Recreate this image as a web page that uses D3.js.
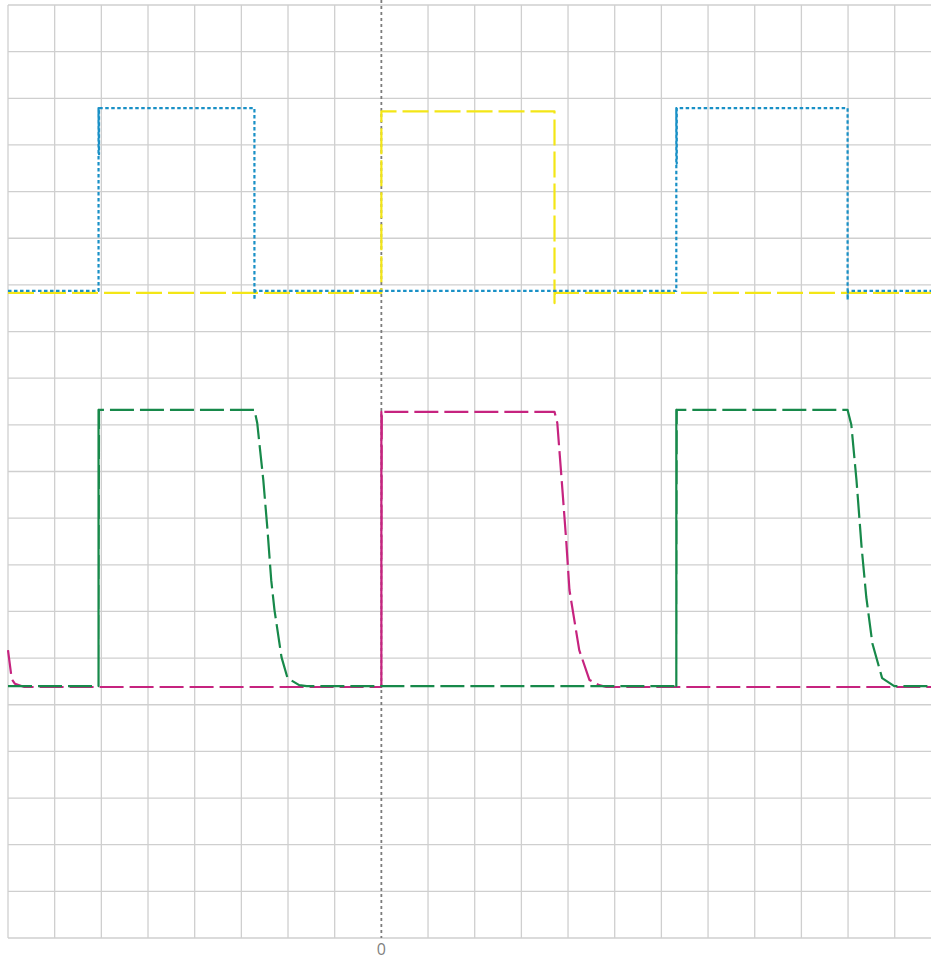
<!DOCTYPE html>
<html>
<head>
<meta charset="utf-8">
<script src="https://cdn.jsdelivr.net/npm/d3@7/dist/d3.min.js"></script>
<style>
  html, body { margin: 0; padding: 0; background: #ffffff; }
  svg { display: block; }
  .tick-label { font-family: "Open Sans", "Noto Sans", sans-serif; font-size: 16px; fill: #808080; }
</style>
</head>
<body>
<svg id="chart" width="931" height="960"></svg>
<script>
// Grid: one division per unit on both axes
const xTicks = d3.range(-8, 13, 1);
const yTicks = d3.range(0, 21, 1);
const xLabels = ["0"];

// Trace A (blue, dotted): square wave with small undershoot on falling edges
const traceA = [
  [-8, 13.87], [-6.06, 13.87], [-6.06, 17.79], [-6.05, 16.8], [-6.05, 17.79],
  [-2.72, 17.79], [-2.72, 13.68], [-2.71, 13.87],
  [6.32, 13.87], [6.32, 17.79], [6.33, 16.6], [6.33, 17.79],
  [9.99, 17.79], [9.99, 13.68], [10.0, 13.87], [12, 13.87]
];

// Trace B (yellow, long dash)
const traceB = [
  [-8, 13.83], [0, 13.83], [0, 17.72],
  [3.71, 17.72], [3.71, 13.61], [3.72, 13.83], [12, 13.83]
];

// Trace C (green, dashed): fast rise, slower exponential-like fall
const traceC = [
  [-8, 5.40], [-6.06, 5.40], [-6.06, 11.32], [-6.06, 5.40], [-6.05, 11.32],
  [-2.72, 11.32], [-2.66, 11.04], [-2.53, 9.82], [-2.44, 8.75], [-2.36, 7.67],
  [-2.29, 7.03], [-2.14, 6.02], [-2.01, 5.57], [-1.76, 5.42], [-1.6, 5.40],
  [6.32, 5.40], [6.32, 11.32], [6.32, 5.40], [6.33, 11.32],
  [9.99, 11.32], [10.07, 11.0], [10.18, 9.82], [10.29, 8.38], [10.39, 7.31],
  [10.52, 6.32], [10.73, 5.57], [10.99, 5.40], [12, 5.40]
];

// Trace D (magenta, dashed)
const traceD = [
  [-8, 6.17], [-7.92, 5.55], [-7.85, 5.45], [-7.65, 5.38],
  [0, 5.38], [0, 11.28], [0, 5.38], [0.01, 11.28],
  [3.71, 11.28], [3.77, 11.04], [3.88, 9.60], [3.96, 8.53], [4.03, 7.46],
  [4.24, 6.17], [4.46, 5.53], [4.67, 5.42], [4.82, 5.38], [12, 5.38]
];

const svg = d3.select("#chart");
const marginLeft = 8, marginTop = 5, cellH = 46.65, cellW = 46.67;
const x = d3.scaleLinear().domain([-8, 12]).range([marginLeft, marginLeft + 20 * cellW]);
const y = d3.scaleLinear().domain([0, 20]).range([marginTop + 20 * cellH, marginTop]);
const plotBottom = y(0);
const plotRight = x(12);

// Grid
const grid = svg.append("g").attr("class", "grid");
grid.selectAll("line.v").data(xTicks.filter(d => d !== 0)).join("line")
  .attr("class", "v")
  .attr("x1", d => x(d)).attr("x2", d => x(d))
  .attr("y1", y(20)).attr("y2", plotBottom)
  .attr("stroke", "#cfcfcf").attr("stroke-width", 1.3);
grid.selectAll("line.h").data(yTicks).join("line")
  .attr("class", "h")
  .attr("x1", x(-8)).attr("x2", plotRight)
  .attr("y1", d => y(d)).attr("y2", d => y(d))
  .attr("stroke", "#cfcfcf").attr("stroke-width", 1.3);

// Zero reference line
svg.append("line")
  .attr("x1", x(0)).attr("x2", x(0))
  .attr("y1", 0).attr("y2", plotBottom)
  .attr("stroke", "#7c7c7c").attr("stroke-width", 1.8)
  .attr("stroke-dasharray", "3,3");

// Axis label at zero
svg.append("g").selectAll("text").data(xLabels).join("text")
  .attr("class", "tick-label")
  .attr("x", d => x(+d)).attr("y", 955)
  .attr("text-anchor", "middle")
  .text(d => d);

const line = d3.line().x(d => x(d[0])).y(d => y(d[1])).curve(d3.curveLinear);

const plot = svg.append("g");
const series = [
  { data: traceD, color: "#c6237f", dash: "24,6", width: 2.2 },
  { data: traceC, color: "#17894a", dash: "24,6", width: 2.2 },
  { data: traceB, color: "#f3e616", dash: "26,6", width: 2.2 },
  { data: traceA, color: "#1990c6", dash: "3.5,2.5", width: 2.2 }
];
plot.selectAll("path").data(series).join("path")
  .attr("d", d => line(d.data))
  .attr("fill", "none")
  .attr("stroke", d => d.color)
  .attr("stroke-width", d => d.width)
  .attr("stroke-dasharray", d => d.dash)
  .attr("stroke-linejoin", "round");
</script>
</body>
</html>
